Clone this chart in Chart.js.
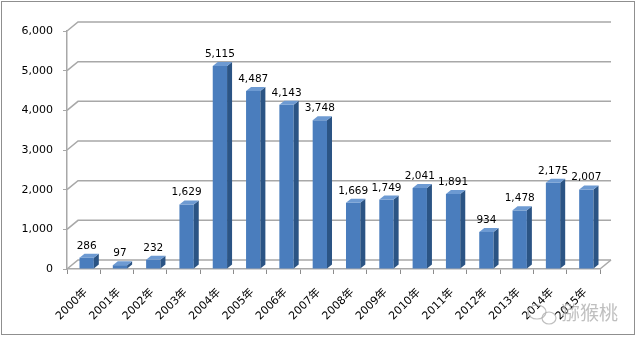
<!DOCTYPE html>
<html>
<head>
<meta charset="utf-8">
<script src="https://cdn.jsdelivr.net/npm/chart.js@4"></script>
<style>
  html, body { margin: 0; padding: 0; background: #fff; }
  #wrap { width: 640px; height: 339px; }
</style>
</head>
<body>
<div id="wrap"><canvas id="grafico"></canvas></div>
<script>
// datos
const years = ["2000年", "2001年", "2002年", "2003年", "2004年", "2005年", "2006年", "2007年",
               "2008年", "2009年", "2010年", "2011年", "2012年", "2013年", "2014年", "2015年"];
const values = [286, 97, 232, 1629, 5115, 4487, 4143, 3748, 1669, 1749, 2041, 1891, 934, 1478, 2175, 2007];
const yTicks = [0, 1000, 2000, 3000, 4000, 5000, 6000];

// 3D offsets
const WALL_DX = 11, WALL_DY = -9;
const BAR_DX = 5, BAR_DY = -4;
const SHIFT = 3;

const fmt = v => v.toLocaleString("en-US");

const pseudo3d = {
    id: "pseudo3d",
    beforeDraw(chart) {
        const { ctx, width, height } = chart;
        ctx.save();
        ctx.fillStyle = "#fff";
        ctx.fillRect(0, 0, width, height);
        ctx.strokeStyle = "#8f8f8f";
        ctx.lineWidth = 1;
        ctx.strokeRect(1.5, 1.5, width - 7, height - 6);
        ctx.restore();
    },
    beforeDatasetsDraw(chart) {
        const { ctx, chartArea: a, scales: { y } } = chart;
        ctx.save();
        ctx.strokeStyle = "#a8a8a8";
        ctx.lineWidth = 1.5;
        yTicks.forEach(v => {
            const py = y.getPixelForValue(v);
            ctx.beginPath();
            ctx.moveTo(a.left, py);
            ctx.lineTo(a.left + WALL_DX, py + WALL_DY);
            ctx.lineTo(a.right + WALL_DX, py + WALL_DY);
            ctx.stroke();
        });
        const y0 = y.getPixelForValue(0);
        ctx.beginPath();
        ctx.moveTo(a.right, y0);
        ctx.lineTo(a.right + WALL_DX, y0 + WALL_DY);
        ctx.stroke();
        ctx.restore();

        ctx.save();
        ctx.translate(SHIFT, 0);
    },
    afterDatasetsDraw(chart) {
        const { ctx } = chart;
        const meta = chart.getDatasetMeta(0);
        meta.data.forEach((bar, i) => {
            const { x, y, base, width } = bar.getProps(["x", "y", "base", "width"], true);
            const l = x - width / 2, r = x + width / 2;
            // lado
            ctx.fillStyle = "#2b5484";
            ctx.beginPath();
            ctx.moveTo(r, y);
            ctx.lineTo(r + BAR_DX, y + BAR_DY);
            ctx.lineTo(r + BAR_DX, base + BAR_DY);
            ctx.lineTo(r, base);
            ctx.closePath();
            ctx.fill();
            // tapa
            ctx.fillStyle = "#6d9ad2";
            ctx.beginPath();
            ctx.moveTo(l, y);
            ctx.lineTo(l + BAR_DX, y + BAR_DY);
            ctx.lineTo(r + BAR_DX, y + BAR_DY);
            ctx.lineTo(r, y);
            ctx.closePath();
            ctx.fill();
            // etiqueta
            ctx.fillStyle = "#000";
            ctx.font = "10.5px 'DejaVu Sans'";
            ctx.textAlign = "center";
            ctx.textBaseline = "alphabetic";
            ctx.fillText(fmt(values[i]), x, y - 9);
        });
        ctx.restore();

        // marca de agua
        ctx.save();
        ctx.strokeStyle = "rgba(175,175,175,0.8)";
        ctx.lineWidth = 1.2;
        ctx.beginPath();
        ctx.ellipse(537, 312, 9, 7, 0, 0, Math.PI * 2);
        ctx.stroke();
        ctx.beginPath();
        ctx.ellipse(549, 318, 7, 6, 0, 0, Math.PI * 2);
        ctx.stroke();
        ctx.fillStyle = "rgba(170,170,170,0.75)";
        ctx.font = "19px 'Noto Sans CJK SC'";
        ctx.textAlign = "left";
        ctx.textBaseline = "middle";
        ctx.fillText("猕猴桃", 561, 313);
        ctx.restore();
    }
};

const ctxGrafico = document.getElementById("grafico");
new Chart(ctxGrafico, {
    type: "bar",
    data: {
        labels: years,
        datasets: [{
            data: values,
            backgroundColor: "#4a7dbd",
            borderWidth: 0,
            barPercentage: 0.43,
            categoryPercentage: 1
        }]
    },
    options: {
        responsive: true,
        maintainAspectRatio: false,
        animation: false,
        layout: { padding: { left: 0, top: 31, right: 40, bottom: 0 } },
        plugins: {
            legend: { display: false },
            tooltip: { enabled: false }
        },
        scales: {
            x: {
                grid: { offset: true, drawOnChartArea: false, tickLength: 5, color: "#8c8c8c" },
                border: { display: true, color: "#a8a8a8", width: 1.5 },
                ticks: {
                    minRotation: 45, maxRotation: 45, autoSkip: false,
                    color: "#000", font: { family: "'DejaVu Sans', 'Noto Sans CJK SC'", size: 11 },
                    padding: 12,
                    labelOffset: 2
                },
                afterFit: s => { s.height = 70; }
            },
            y: {
                min: 0, max: 6000,
                afterBuildTicks: s => { s.ticks = yTicks.map(v => ({ value: v })); },
                grid: { drawOnChartArea: false, tickLength: 4, color: "#a8a8a8" },
                border: { display: true, color: "#a8a8a8", width: 1.5 },
                ticks: {
                    color: "#000", font: { family: "'DejaVu Sans'", size: 11 },
                    padding: 10,
                    callback: v => fmt(v)
                },
                afterFit: s => { s.width = 67; }
            }
        }
    },
    plugins: [pseudo3d]
});
</script>
</body>
</html>
